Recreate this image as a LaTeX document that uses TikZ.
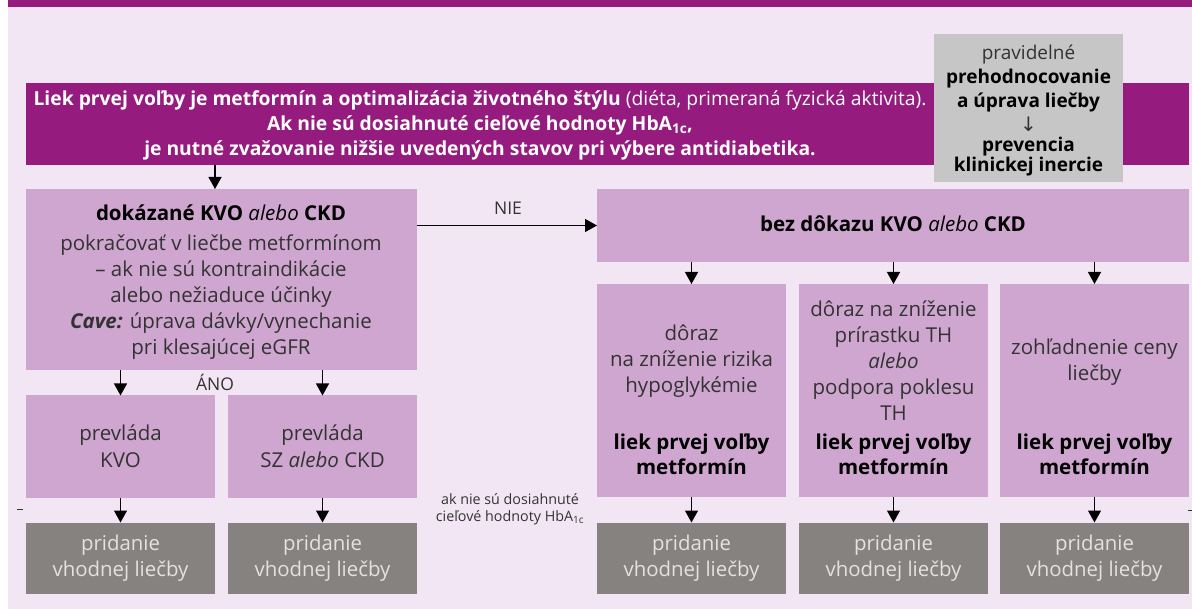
\documentclass[tikz,border=0pt]{standalone}
\usepackage{fontspec}
\setmainfont{Open Sans}
\newfontfamily\arrowfont{DejaVu Sans}
\usetikzlibrary{arrows.meta}
\definecolor{bgpink}{HTML}{F3E6F4}
\definecolor{mainpurple}{HTML}{951B7F}
\definecolor{lightbox}{HTML}{CFA6CF}
\definecolor{greybox}{HTML}{C6C6C6}
\definecolor{darkbox}{HTML}{86827F}
\definecolor{bodytext}{HTML}{333333}
\definecolor{palegrey}{HTML}{E2E2E2}
\newcommand\fsz[2]{\fontsize{#1}{#2}\selectfont}
\begin{document}
\begin{tikzpicture}[x=1pt,y=-1pt,
  lb/.style={rectangle, fill=lightbox, inner sep=0pt, outer sep=0pt, minimum width=189pt},
  db/.style={rectangle, fill=darkbox, inner sep=0pt, outer sep=0pt, minimum width=189pt, minimum height=71pt, text=palegrey, align=center, font=\fsz{20.4}{26}},
  txt/.style={inner sep=0pt, align=center, text=bodytext, font=\fsz{20.5}{26}},
  bold/.style={inner sep=0pt, align=center, text=black, font=\bfseries\fsz{20.5}{25}},
  lab/.style={inner sep=0pt, text=bodytext, font=\fsz{17.5}{20}},
  arr/.style={line width=1.3pt, -{Triangle[width=13pt,length=12pt]}},
]
\useasboundingbox (0,0) rectangle (1192,609);
\fill[bgpink] (8,0) rectangle (1192,609);
\fill[mainpurple] (8,0) rectangle (1192,7);

% main purple box
\node[fill=mainpurple, minimum width=1163pt, minimum height=82pt, inner sep=0pt, outer sep=0pt] (M) at (607.5,124) {};
\node[text=white, align=center, font=\fsz{19.3}{25}, inner sep=0pt] (Mt) at (480,125)
  {\textbf{Liek prvej voľby je metformín a optimalizácia životného štýlu} (diéta, primeraná fyzická aktivita).\\
   \textbf{Ak nie sú dosiahnuté cieľové hodnoty HbA\textsubscript{1c},}\\
   \textbf{je nutné zvažovanie nižšie uvedených stavov pri výbere antidiabetika.}};

% grey box
\node[fill=greybox, minimum width=189pt, minimum height=148pt, inner sep=0pt, outer sep=0pt] (G) at (1028.5,108) {};
\node[txt, text=black, font=\fsz{19}{24}] (G1) at (1028.5,78.5)
  {{\color{bodytext}pravidelné}\\\textbf{prehodnocovanie}\\\textbf{a úprava liečby}};
\node[inner sep=0pt, text=bodytext, font=\arrowfont\fsz{20}{22}] (Ga) at (1028.5,124.5) {↓};
\node[txt, text=black, font=\bfseries\fsz{19}{18}] (G2) at (1028.5,157) {prevencia\\klinickej inercie};

% left big box
\node[lb, minimum width=391pt, minimum height=181pt] (L) at (221.5,279.5) {};
\node[bold] (Lt) at (221,213) {dokázané KVO \textmd{\textit{alebo}} CKD};
\node[txt] (Lb) at (221,297) {pokračovať v liečbe metformínom\\– ak nie sú kontraindikácie\\alebo nežiaduce účinky\\\textbf{\textit{Cave:}} úprava dávky/vynechanie\\pri klesajúcej eGFR};

% right wide box
\node[lb, minimum width=592pt, minimum height=73pt] (R) at (893,225.5) {};
\node[bold] (Rt) at (893,224) {bez dôkazu KVO \textmd{\textit{alebo}} CKD};

% three right boxes
\node[lb, minimum height=213pt] (B1) at (691.5,390.5) {};
\node[lb, minimum height=213pt] (B2) at (893.5,390.5) {};
\node[lb, minimum height=213pt] (B3) at (1094.5,390.5) {};
\node[txt] (B1t) at (691.5,361) {dôraz\\na zníženie rizika\\hypoglykémie};
\node[txt] (B2t) at (893.5,361) {dôraz na zníženie\\prírastku TH\\\textit{alebo}\\podpora poklesu\\TH};
\node[txt] (B3t) at (1094.5,362) {zohľadnenie ceny\\liečby};
\node[bold] (B1b) at (691.5,454.5) {liek prvej voľby\\metformín};
\node[bold] (B2b) at (893.5,454.5) {liek prvej voľby\\metformín};
\node[bold] (B3b) at (1094.5,454.5) {liek prvej voľby\\metformín};

% two left boxes
\node[lb, minimum height=102pt, text=bodytext, align=center, font=\fsz{20.5}{27}] (C1) at (120.5,446.5) {prevláda\\KVO};
\node[lb, minimum height=102pt, text=bodytext, align=center, font=\fsz{20.5}{27}] (C2) at (322.5,446.5) {prevláda\\SZ \textit{alebo} CKD};

% dark boxes
\node[db] (D1) at (120.5,558) {pridanie\\vhodnej liečby};
\node[db] (D2) at (322.5,558) {pridanie\\vhodnej liečby};
\node[db] (D3) at (691.5,558) {pridanie\\vhodnej liečby};
\node[db] (D4) at (893.5,558) {pridanie\\vhodnej liečby};
\node[db] (D5) at (1094.5,558) {pridanie\\vhodnej liečby};

% labels
\node[lab] (nie) at (508,208) {NIE};
\node[lab] (ano) at (215,382) {ÁNO};
\node[txt, font=\fsz{14.3}{17}] (hb) at (510,509) {ak nie sú dosiahnuté\\cieľové hodnoty HbA\textsubscript{1c}};

% connectors
\coordinate (a0) at (215,0);
\draw[arr] (M.south -| a0) -- (L.north -| a0);
\draw[arr] (L.east |- R.west) -- (R.west);
\draw[arr] (R.south -| B1.north) -- (B1.north);
\draw[arr] (R.south -| B2.north) -- (B2.north);
\draw[arr] (R.south -| B3.north) -- (B3.north);
\draw[arr] (L.south -| C1.north) -- (C1.north);
\draw[arr] (L.south -| C2.north) -- (C2.north);
\draw[arr] (C1.south) -- (D1.north);
\draw[arr] (C2.south) -- (D2.north);
\draw[arr] (B1.south) -- (D3.north);
\draw[arr] (B2.south) -- (D4.north);
\draw[arr] (B3.south) -- (D5.north);

% small marks at the edges
\draw[line width=1pt, bodytext] (17,509) -- (23,509);
\draw[line width=1pt, bodytext] (1188,510) -- (1192,510);
\end{tikzpicture}
\end{document}
